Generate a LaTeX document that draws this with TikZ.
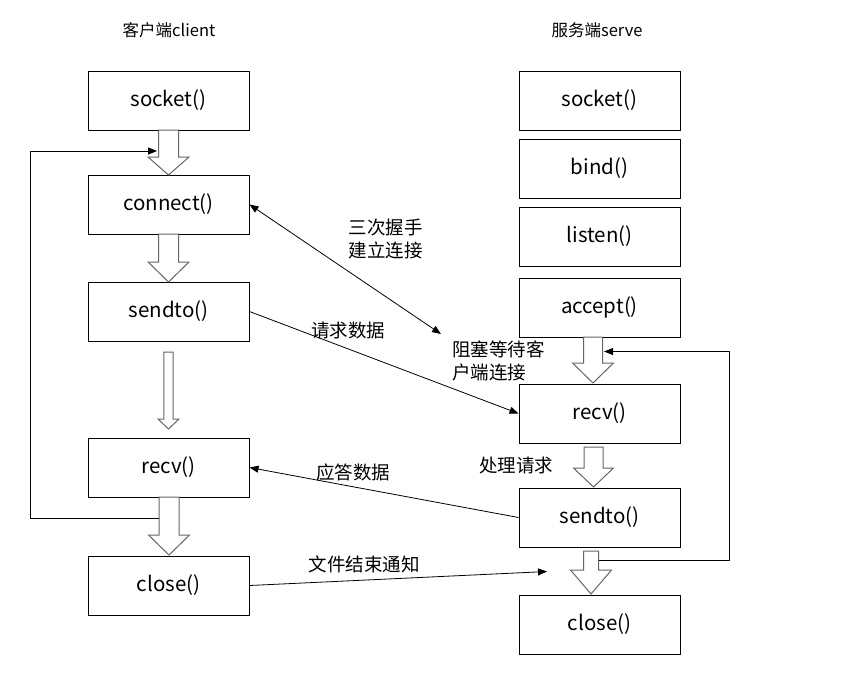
\documentclass[tikz,border=0pt]{standalone}
\usepackage{fontspec}
\setmainfont{Noto Sans CJK SC}
\usetikzlibrary{arrows.meta}
\newcommand\barr[6]{%
  \draw[barrow] (#1-#5,#2) -- (#1-#5,#3) -- (#1-#6,#3) -- (#1,#4) -- (#1+#6,#3) -- (#1+#5,#3) -- (#1+#5,#2) -- cycle;}
\begin{document}
\begin{tikzpicture}[x=1pt,y=-1pt,
  box/.style={draw=black,line width=1pt,minimum width=161pt,minimum height=59pt,inner sep=0pt,font=\fontsize{20.5}{24}\selectfont},
  lbl/.style={inner sep=0pt,align=left,font=\fontsize{18.5}{23}\selectfont},
  ttl/.style={inner sep=0pt,font=\fontsize{16.5}{20}\selectfont},
  conn/.style={line width=0.8pt,-{Triangle[length=9pt,width=7pt]}},
  barrow/.style={draw=black!60,line width=1pt,fill=white}]
\useasboundingbox (0,0) rectangle (842,680);
% titles
\node[ttl] (tl) at (169,30) {客户端client};
\node[ttl] (tr) at (597,30) {服务端serve};
% left column
\node[box] (lsocket)  at (168.5,100.5) {socket()};
\node[box] (lconnect) at (168.5,204.5) {connect()};
\node[box] (lsendto)  at (168.5,311.5) {sendto()};
\node[box] (lrecv)    at (168.5,467.5) {recv()};
\node[box] (lclose)   at (168.5,585.5) {close()};
% right column
\node[box] (rsocket) at (599.5,100.5) {socket()};
\node[box] (rbind)   at (599.5,168.5) {bind()};
\node[box] (rlisten) at (599.5,236.5) {listen()};
\node[box] (raccept) at (599.5,307.5) {accept()};
\node[box] (rrecv)   at (599.5,413.5) {recv()};
\node[box] (rsendto) at (599.5,517.5) {sendto()};
\node[box] (rclose)  at (599.5,624.5) {close()};
% block arrows
\barr{168.5}{130}{157}{175}{10}{20.5}
\barr{168.5}{234}{262}{282}{10}{20.5}
\barr{168.5}{352}{419}{429}{4.7}{10.5}
\barr{169}{497}{535}{555}{10}{20.5}
\barr{593}{337}{363}{383}{9.5}{20.5}
\barr{593.5}{447}{468}{487}{9.5}{20}
\barr{591}{551}{570}{594}{7.5}{20.5}
% loops
\coordinate (lb) at (159,518);
\coordinate (lt) at (157,151);
\draw[conn] (lb) -- (30,518) -- (30,151) -- (lt);
\coordinate (rb) at (599,560);
\coordinate (rt) at (604,351.5);
\draw[conn] (rb) -- (729,560) -- (729,351.5) -- (rt);
% message arrows
\coordinate (wait) at (441,334);
\draw[line width=0.8pt,{Triangle[length=9pt,width=7pt]}-{Triangle[length=9pt,width=7pt]}] (lconnect.east) -- (wait);
\draw[conn] (lsendto.east) -- (rrecv.west);
\draw[conn] (rsendto.west) -- (lrecv.east);
\coordinate (fin) at (547,571.5);
\draw[conn] (lclose.east) -- (fin);
% labels
\node[lbl] (l1) at (385.5,238.5) {三次握手\\建立连接};
\node[lbl] (l2) at (348,330) {请求数据};
\node[lbl,anchor=west] (l3) at (452,361) {阻塞等待客\\户端连接};
\node[lbl] (l4) at (516,465) {处理请求};
\node[lbl] (l5) at (353,472) {应答数据};
\node[lbl] (l6) at (364,564) {文件结束通知};
\end{tikzpicture}
\end{document}
